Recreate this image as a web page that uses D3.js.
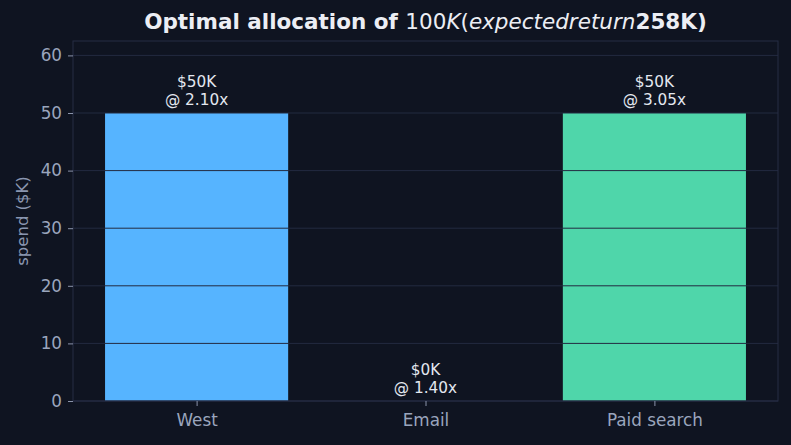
<!DOCTYPE html>
<html>
<head>
<meta charset="utf-8">
<script src="https://cdn.jsdelivr.net/npm/d3@7"></script>
<style>
    body { margin: 0; background: #0f1421; }
    svg { display: block; font-family: "DejaVu Sans", sans-serif; }
</style>
</head>
<body>
<div id="chart"></div>
<script>
// chart data
const channels = ["West", "Email", "Paid search"];
const spend = [50, 0, 50];
const roi = [2.10, 1.40, 3.05];
const barColors = ["#56b4ff", "#4fd6aa", "#4fd6aa"];
const yTicks = [0, 10, 20, 30, 40, 50, 60];

const W = 791, H = 445;
const margin = {top: 41, right: 13, bottom: 44, left: 73};
const width = W - margin.left - margin.right;
const height = H - margin.top - margin.bottom;

const svg = d3.select("#chart").append("svg")
    .attr("width", W)
    .attr("height", H);

svg.append("rect").attr("width", W).attr("height", H).attr("fill", "#0f1421");

const g = svg.append("g")
    .attr("transform", `translate(${margin.left}, ${margin.top})`);

// scales (matplotlib style categorical with 0.8 width and 5% margins)
let idx = channels.map((d, i) => i);
let x = d3.scaleLinear()
    .domain([-0.4 - 0.14, channels.length - 1 + 0.4 + 0.14])
    .range([0, width]);

let y = d3.scaleLinear()
    .domain([0, d3.max(spend) * 1.25])
    .range([height, 0]);

// bars
g.selectAll(".bar").data(spend)
    .enter().append("rect")
    .attr("class", "bar")
    .attr("x", (d, i) => x(i - 0.4))
    .attr("width", x(0.4) - x(-0.4))
    .attr("y", d => y(d))
    .attr("height", d => y(0) - y(d))
    .attr("fill", (d, i) => barColors[i]);

// grid on top of bars
g.selectAll(".grid").data(yTicks)
    .enter().append("line")
    .attr("class", "grid")
    .attr("x1", 0).attr("x2", width)
    .attr("y1", d => y(d)).attr("y2", d => y(d))
    .attr("stroke", "#232a40")
    .attr("stroke-width", 1);

// frame
g.append("rect")
    .attr("width", width).attr("height", height)
    .attr("fill", "none")
    .attr("stroke", "#262d44")
    .attr("stroke-width", 1);

// y axis
let yAxis = g.append("g")
    .call(d3.axisLeft(y).tickValues(yTicks).tickSize(5).tickPadding(6));
yAxis.select(".domain").remove();
yAxis.selectAll("line").attr("stroke", "#8a93aa");
yAxis.selectAll("text")
    .attr("fill", "#9aa5bd")
    .style("font-size", "16.8px")
    .style("font-family", "DejaVu Sans");

// x axis
let xAxis = g.append("g")
    .attr("transform", `translate(0, ${height})`)
    .call(d3.axisBottom(x).tickValues(idx).tickFormat(i => channels[i]).tickSize(5).tickPadding(8));
xAxis.select(".domain").remove();
xAxis.selectAll("line").attr("stroke", "#8a93aa");
xAxis.selectAll("text")
    .attr("fill", "#9aa5bd")
    .style("font-size", "16.8px")
    .style("font-family", "DejaVu Sans");

// y label
svg.append("text")
    .attr("transform", `translate(28, ${margin.top + height / 2}) rotate(-90)`)
    .attr("text-anchor", "middle")
    .attr("fill", "#8a96b0")
    .style("font-size", "16.5px")
    .text("spend ($K)");

// bar labels
let labels = g.selectAll(".barLabel").data(spend)
    .enter().append("text")
    .attr("class", "barLabel")
    .attr("text-anchor", "middle")
    .attr("fill", "#e3e7ef")
    .style("font-size", "15.3px")
    .attr("x", (d, i) => x(i))
    .attr("y", d => y(d) - 8);
labels.append("tspan")
    .attr("x", (d, i) => x(i))
    .attr("dy", "-1.18em")
    .text(d => `$${d}K`);
labels.append("tspan")
    .attr("x", (d, i) => x(i))
    .attr("dy", "1.18em")
    .text((d, i) => `@ ${roi[i].toFixed(2)}x`);

// title (mathtext-like rendering of the $...$ part)
let title = svg.append("text")
    .attr("x", margin.left + width / 2)
    .attr("y", 29)
    .attr("text-anchor", "middle")
    .attr("fill", "#eceef4")
    .style("font-size", "21.5px");
title.append("tspan").attr("font-weight", "bold").text("Optimal allocation of ");
title.append("tspan").text("100");
title.append("tspan").attr("font-style", "italic").text("K");
title.append("tspan").text("(");
title.append("tspan").attr("font-style", "italic").text("expectedreturn");
title.append("tspan").attr("font-weight", "bold").text("258K)");
</script>
</body>
</html>
